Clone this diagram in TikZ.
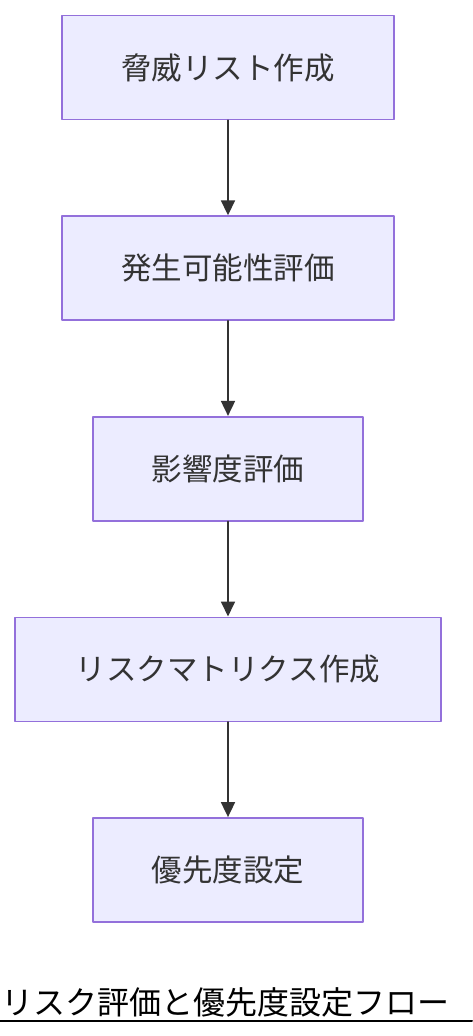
\documentclass[tikz,border=0pt]{standalone}
\usepackage{fontspec}
\setmainfont{Noto Sans CJK JP}
\usetikzlibrary{arrows.meta,positioning}
\definecolor{boxfill}{HTML}{ECECFF}
\definecolor{boxline}{HTML}{9370DB}
\definecolor{ink}{HTML}{333333}

\begin{document}
\begin{tikzpicture}[>={Triangle[length=15pt,width=14pt]}, x=1pt, y=1pt, line cap=round, line join=round,
	stepbox/.style={draw=boxline, fill=boxfill, line width=1.6pt, minimum height=104pt, text=ink, font=\fontsize{30.5}{34}\selectfont},
	flow/.style={->, draw=ink, line width=1.8pt, fill=ink},
	node distance=95pt]
	
	% --- page frame ---
	\useasboundingbox (0,0) rectangle (472,-1036);
	
	% --- steps of the flow ---
	\node[stepbox, minimum width=332pt] (threat) at (228,-67.5) {脅威リスト作成};
	\node[stepbox, minimum width=332pt, below=of threat] (likely) {発生可能性評価};
	\node[stepbox, minimum width=270pt, below=of likely] (impact) {影響度評価};
	\node[stepbox, minimum width=426pt, below=of impact] (matrix) {リスクマトリクス作成};
	\node[stepbox, minimum width=270pt, below=of matrix] (prio) {優先度設定};
	
	% --- connectors ---
	\draw[flow] (threat) -- (likely);
	\draw[flow] (likely) -- (impact);
	\draw[flow] (impact) -- (matrix);
	\draw[flow] (matrix) -- (prio);
	
	% --- title with underline ---
	\node[anchor=base west, inner sep=0pt, font=\fontsize{32}{36}\selectfont] (title) at (1,-1014) {リスク評価と優先度設定フロー};
	\coordinate (ulA) at (0,-1021);
	\coordinate (ulB) at (472,-1021);
	\draw[line width=2pt] (ulA) -- (ulB);
	
\end{tikzpicture}
\end{document}
